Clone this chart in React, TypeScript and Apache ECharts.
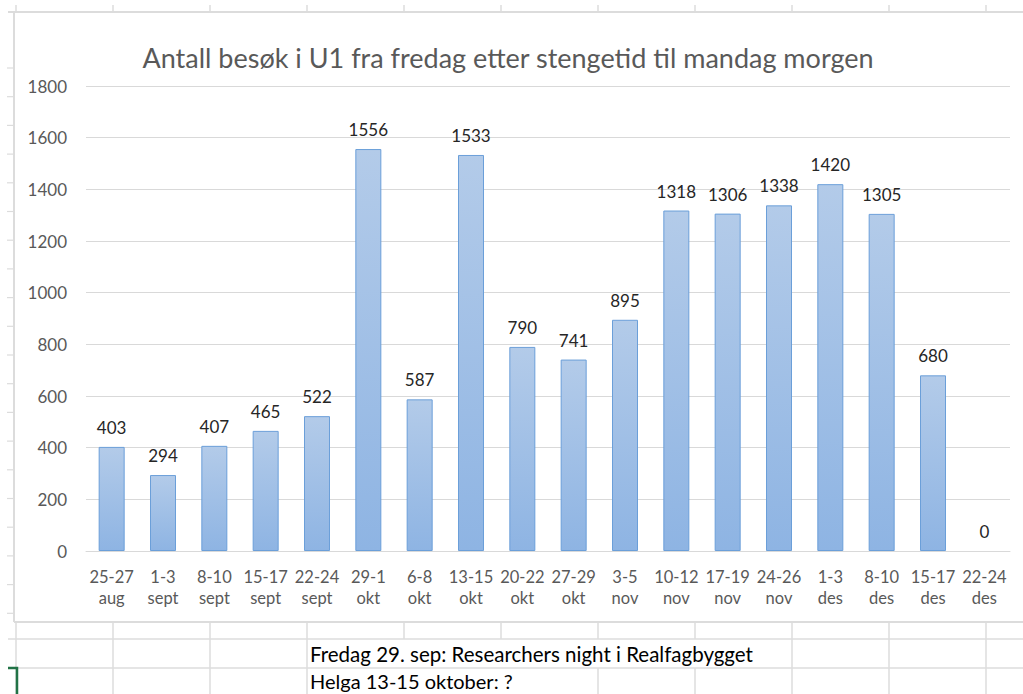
import React, { useEffect, useRef } from "react";
import * as echarts from "echarts";

const categories: string[] = [
  "25-27\naug", "1-3\nsept", "8-10\nsept", "15-17\nsept", "22-24\nsept", "29-1\nokt",
  "6-8\nokt", "13-15\nokt", "20-22\nokt", "27-29\nokt", "3-5\nnov", "10-12\nnov",
  "17-19\nnov", "24-26\nnov", "1-3\ndes", "8-10\ndes", "15-17\ndes", "22-24\ndes",
];
const visits: number[] = [403, 294, 407, 465, 522, 1556, 587, 1533, 790, 741, 895, 1318, 1306, 1338, 1420, 1305, 680, 0];
const titleText = "Antall besøk i U1 fra fredag etter stengetid til mandag morgen";
const notes: string[] = ["Fredag 29. sep: Researchers night i Realfagbygget", "Helga 13-15 oktober: ?"];

const FONT = "Lato, 'Open Sans', sans-serif";

function buildGraphics() {
  const g: any[] = [];
  const lineCol = "#dcdcdc";
  g.push({ type: "line", shape: { x1: 8, y1: 12, x2: 1023, y2: 12 }, style: { stroke: lineCol, lineWidth: 2 }, z: 0 });
  for (let x = 16; x < 1023; x += 97) {
    g.push({ type: "line", shape: { x1: x, y1: 5, x2: x, y2: 12 }, style: { stroke: lineCol, lineWidth: 1.5 }, z: 0 });
  }
  g.push({ type: "line", shape: { x1: 14, y1: 12, x2: 14, y2: 622 }, style: { stroke: lineCol, lineWidth: 2 }, z: 0 });
  for (let y = 68; y < 620; y += 28.7) {
    g.push({ type: "line", shape: { x1: 7, y1: y, x2: 14, y2: y }, style: { stroke: lineCol, lineWidth: 1.2 }, z: 0 });
  }
  g.push({ type: "line", shape: { x1: 14, y1: 622, x2: 1023, y2: 622 }, style: { stroke: lineCol, lineWidth: 2 }, z: 0 });
  g.push({ type: "line", shape: { x1: 8, y1: 639, x2: 1023, y2: 639 }, style: { stroke: lineCol, lineWidth: 1.5 }, z: 0 });
  g.push({ type: "line", shape: { x1: 8, y1: 668, x2: 1023, y2: 668 }, style: { stroke: lineCol, lineWidth: 1.5 }, z: 0 });
  for (let x = 16; x < 1023; x += 97) {
    g.push({ type: "line", shape: { x1: x, y1: 622, x2: x, y2: 639 }, style: { stroke: lineCol, lineWidth: 1.5 }, z: 0 });
    const hiddenMid = x > 310 && x < 765;
    const hiddenLow = x > 310 && x < 520;
    if (!hiddenMid) g.push({ type: "line", shape: { x1: x, y1: 639, x2: x, y2: 668 }, style: { stroke: lineCol, lineWidth: 1.5 }, z: 0 });
    if (!hiddenLow) g.push({ type: "line", shape: { x1: x, y1: 668, x2: x, y2: 694 }, style: { stroke: lineCol, lineWidth: 1.5 }, z: 0 });
  }
  g.push({ type: "polyline", shape: { points: [[8, 668], [17, 668], [17, 694]] }, style: { stroke: "#217346", lineWidth: 2.5, fill: null }, z: 2 });
  g.push({
    type: "text", x: 508, y: 57,
    style: { text: titleText, fill: "#595959", font: `27px ${FONT}`, textAlign: "center", textVerticalAlign: "middle" },
    z: 3,
  });
  g.push({ type: "text", x: 310, y: 654, style: { text: notes[0], fill: "#000000", font: `20.5px ${FONT}`, textVerticalAlign: "middle" }, z: 3 });
  g.push({ type: "text", x: 310, y: 681, style: { text: notes[1], fill: "#000000", font: `20px ${FONT}`, textVerticalAlign: "middle" }, z: 3 });
  return g;
}

export default function App() {
  const ref = useRef<HTMLDivElement>(null);
  useEffect(() => {
    if (!ref.current) return;
    const chart = echarts.init(ref.current, undefined, { renderer: "svg" });
    chart.setOption({
      animation: false,
      backgroundColor: "#ffffff",
      grid: { left: 86, right: 13, top: 86, bottom: 143, containLabel: false },
      xAxis: {
        type: "category",
        data: categories,
        axisLine: { show: true, lineStyle: { color: "#d9d9d9", width: 1 } },
        axisTick: { show: false },
        axisLabel: { color: "#595959", fontSize: 16.5, fontFamily: FONT, lineHeight: 21, margin: 15, interval: 0 },
      },
      yAxis: {
        type: "value",
        min: 0,
        max: 1800,
        interval: 200,
        axisLine: { show: false },
        axisTick: { show: false },
        splitLine: { lineStyle: { color: "#d9d9d9", width: 1 } },
        axisLabel: { color: "#595959", fontSize: 17, fontFamily: FONT, margin: 19, formatter: (v: number) => String(v) },
      },
      series: [
        {
          type: "bar",
          data: visits.map((v) => (v === 0 ? { value: v, itemStyle: { borderWidth: 0 } } : v)),
          barWidth: 26,
          itemStyle: {
            color: new echarts.graphic.LinearGradient(0, 0, 0, 1, [
              { offset: 0, color: "#b3cbe9" },
              { offset: 1, color: "#8eb4e3" },
            ]),
            borderColor: "#6b9fd9",
            borderWidth: 1,
          },
          label: {
            show: true,
            position: "top",
            distance: 11,
            color: "#262626",
            fontSize: 17,
            fontFamily: FONT,
          },
        },
      ],
      graphic: buildGraphics(),
    });
    return () => chart.dispose();
  }, []);
  return (
    <div
      ref={ref}
      style={{ position: "fixed", left: 0, top: 0, width: 1023, height: 694 }}
    />
  );
}
